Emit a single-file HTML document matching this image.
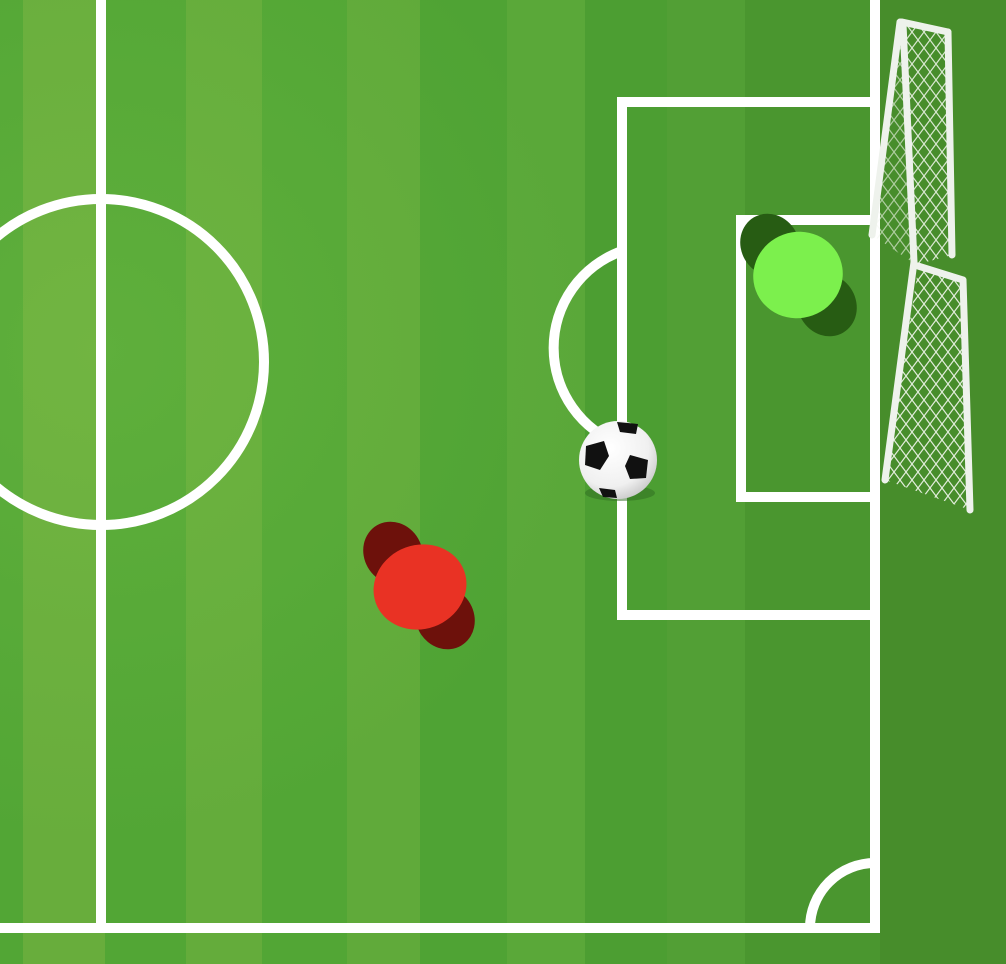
<!DOCTYPE html>
<html><head><meta charset="utf-8"><style>html,body{margin:0;padding:0;width:1006px;height:964px;overflow:hidden;background:#478d2b}svg{display:block}</style></head>
<body>
<svg width="1006" height="964" viewBox="0 0 1006 964">
<defs>
<radialGradient id="glow" cx="100" cy="350" r="500" gradientUnits="userSpaceOnUse">
<stop offset="0" stop-color="#9ad85a" stop-opacity="0.18"/>
<stop offset="1" stop-color="#9ad85a" stop-opacity="0"/>
</radialGradient>
<pattern id="net" width="12" height="16" patternUnits="userSpaceOnUse">
<path d="M0 0 L6 8 L0 16 M12 0 L6 8 L12 16" stroke="#f4f8f0" stroke-width="1.2" fill="none"/>
</pattern>
<radialGradient id="ballg" cx="0.4" cy="0.35" r="0.7">
<stop offset="0" stop-color="#ffffff"/><stop offset="0.7" stop-color="#f0f0f0"/><stop offset="1" stop-color="#c8c8c8"/>
</radialGradient>
</defs>
<g>
<rect x="0" y="0" width="1006" height="964" fill="#52a635"/>
<rect x="23" y="0" width="82" height="964" fill="#68ad3c"/>
<rect x="186" y="0" width="76" height="964" fill="#64ac3b"/>
<rect x="347" y="0" width="75" height="964" fill="#60aa3a"/>
<rect x="420" y="0" width="87" height="964" fill="#4fa334"/>
<rect x="507" y="0" width="78" height="964" fill="#5aa839"/>
<rect x="585" y="0" width="82" height="964" fill="#4c9e32"/>
<rect x="667" y="0" width="78" height="964" fill="#529f35"/>
<rect x="745" y="0" width="135" height="964" fill="#4a962f"/>
<rect x="0" y="0" width="880" height="964" fill="url(#glow)"/>
<rect x="880" y="0" width="126" height="964" fill="#478d2b"/>
</g>
<g stroke="#ffffff" stroke-width="10" fill="none">
<line x1="101" y1="0" x2="101" y2="928"/>
<line x1="0" y1="928" x2="880" y2="928"/>
<line x1="875" y1="0" x2="875" y2="933"/>
<circle cx="101" cy="362" r="163"/>
<path d="M622 251 A103 103 0 0 0 622 445"/>
<rect x="622" y="102" width="253" height="513"/>
<rect x="741" y="220" width="134" height="277"/>
<path d="M810 928 A65 65 0 0 1 875 863"/>
</g>
<g>
<polygon points="902,22 948,32 952,255 915,265" fill="url(#net)" opacity="0.85"/>
<polygon points="900,22 872,235 912,262" fill="url(#net)" opacity="0.6"/>
<polygon points="918,270 963,280 970,510 885,480" fill="url(#net)" opacity="0.9"/>
<g stroke="#eef2ec" stroke-width="7" stroke-linecap="round" fill="none">
<line x1="900" y1="22" x2="872" y2="235"/>
<line x1="902" y1="22" x2="948" y2="32"/>
<line x1="903" y1="24" x2="914" y2="262"/>
<line x1="914" y1="262" x2="885" y2="480"/>
<line x1="948" y1="32" x2="952" y2="255"/>
<line x1="918" y1="266" x2="963" y2="280"/>
<line x1="963" y1="280" x2="970" y2="510"/>
</g>
</g>
<g>
<ellipse cx="620" cy="493" rx="35" ry="8" fill="#2e6a1f" opacity="0.5"/>
<circle cx="618" cy="460" r="39" fill="url(#ballg)"/>
<polygon points="604,441 586,446 585,465 600,470 609,456" fill="#111"/>
<polygon points="630,455 648,460 646,478 630,479 625,466" fill="#111"/>
<polygon points="617,422 638,424 636,434 620,432" fill="#111"/>
<polygon points="599,488 615,490 617,498 603,497" fill="#111"/>
</g>
<g>
<ellipse cx="393" cy="553" rx="29" ry="32" transform="rotate(-30 393 553)" fill="#6d110b"/>
<ellipse cx="445" cy="618" rx="29" ry="32" transform="rotate(-30 445 618)" fill="#6d110b"/>
<ellipse cx="420" cy="587" rx="47" ry="42" transform="rotate(-20 420 587)" fill="#e93224"/>
</g>
<g>
<ellipse cx="770" cy="245" rx="29" ry="32" transform="rotate(-30 770 245)" fill="#275c13"/>
<ellipse cx="827" cy="305" rx="29" ry="32" transform="rotate(-30 827 305)" fill="#275c13"/>
<ellipse cx="798" cy="275" rx="45" ry="43" transform="rotate(-20 798 275)" fill="#7cf04d"/>
</g>
</svg>
</body></html>
